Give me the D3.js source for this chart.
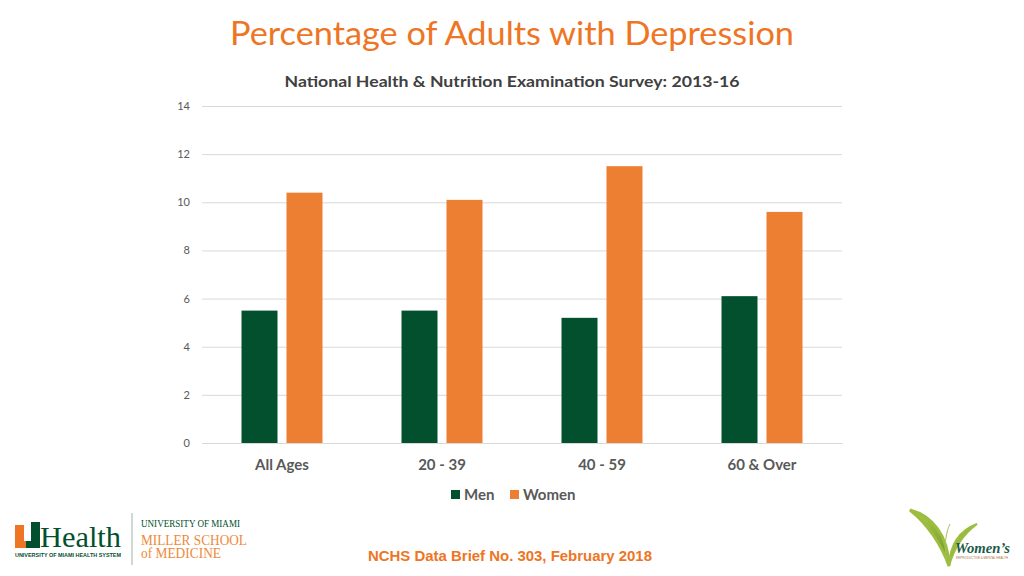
<!DOCTYPE html>
<html>
<head>
<meta charset="utf-8">
<script src="https://cdn.jsdelivr.net/npm/d3@7"></script>
<style>
  html, body { margin: 0; padding: 0; background: #ffffff; }
  svg { display: block; }
</style>
</head>
<body>
<svg id="chart" width="1024" height="576"></svg>
<script>
// ---- data ----
const categories = ["All Ages", "20 - 39", "40 - 59", "60 & Over"];
const seriesNames = ["Men", "Women"];
const menValues = [5.5, 5.5, 5.2, 6.1];
const womenValues = [10.4, 10.1, 11.5, 9.6];
const yTicks = [0, 2, 4, 6, 8, 10, 12, 14];
const titleText = "Percentage of Adults with Depression";
const subtitleText = "National Health & Nutrition Examination Survey: 2013-16";
const footerText = "NCHS Data Brief No. 303, February 2018";

// ---- styles ----
const colors = { Men: "#02502E", Women: "#EC7F31" };
const font = "Lato, 'Open Sans', sans-serif";

const svg = d3.select("#chart");
const margin = { left: 202, right: 842, top: 106, bottom: 443 };

const x0 = d3.scaleBand().domain(categories).range([margin.left, margin.right]).paddingInner(0).paddingOuter(0);
const x1 = d3.scaleBand().domain(seriesNames).range([0, x0.bandwidth()]).paddingInner(0.2).paddingOuter(0.878);
const y = d3.scaleLinear().domain([0, 14]).range([margin.bottom, margin.top]);

const table = categories.map((c, i) => ({ cat: c, Men: menValues[i], Women: womenValues[i] }));

// title
svg.append("text").attr("x", 512).attr("y", 45).attr("text-anchor", "middle")
  .attr("font-family", font).attr("font-size", 32).attr("fill", "#EE7524")
  .attr("textLength", 564).attr("lengthAdjust", "spacingAndGlyphs")
  .text(titleText);
svg.append("text").attr("x", 512).attr("y", 87).attr("text-anchor", "middle")
  .attr("font-family", font).attr("font-size", 16).attr("font-weight", "bold").attr("fill", "#404040")
  .attr("textLength", 455).attr("lengthAdjust", "spacingAndGlyphs")
  .text(subtitleText);

// grid + y axis
const yAxis = d3.axisLeft(y).tickValues(yTicks).tickSize(-(margin.right - margin.left)).tickPadding(12);
const gy = svg.append("g").attr("transform", `translate(${margin.left},0)`).call(yAxis);
gy.select(".domain").remove();
gy.selectAll(".tick line").attr("stroke", "#D9D9D9").attr("stroke-width", 1);
gy.selectAll(".tick text").attr("font-family", font).attr("font-size", 11).attr("fill", "#595959");

// bars
const groups = svg.append("g").selectAll("g").data(table).join("g")
  .attr("transform", d => `translate(${x0(d.cat)},0)`);
groups.selectAll("rect").data(d => seriesNames.map(s => ({ s, v: d[s] }))).join("rect")
  .attr("x", d => x1(d.s)).attr("width", x1.bandwidth())
  .attr("y", d => y(d.v)).attr("height", d => y(0) - y(d.v))
  .attr("fill", d => colors[d.s]);

// x axis
const xAxis = d3.axisBottom(x0).tickSize(0).tickPadding(16);
const gx = svg.append("g").attr("transform", `translate(0,${margin.bottom})`).call(xAxis);
gx.select(".domain").attr("stroke", "#D9D9D9");
gx.selectAll(".tick text").attr("font-family", font).attr("font-size", 15).attr("font-weight", "bold").attr("fill", "#595959");

// legend
const legendX = { Men: 451, Women: 510 };
const lg = svg.append("g").selectAll("g").data(seriesNames).join("g")
  .attr("transform", d => `translate(${legendX[d]},490)`);
lg.append("rect").attr("width", 9).attr("height", 9).attr("fill", d => colors[d]);
lg.append("text").attr("x", 13).attr("y", 10).attr("font-family", font).attr("font-size", 15)
  .attr("font-weight", "bold").attr("fill", "#595959").text(d => d);

// footer
svg.append("text").attr("x", 510).attr("y", 561).attr("text-anchor", "middle")
  .attr("font-family", "'Liberation Sans', Arial, sans-serif").attr("font-size", 14).attr("font-weight", "bold")
  .attr("fill", "#EE7524").attr("textLength", 284).attr("lengthAdjust", "spacingAndGlyphs")
  .text(footerText);

// ---- UHealth logo ----
const logo = svg.append("g");
logo.append("path").attr("d", "M15,525 L24,525 L24,541 L31,541 L31,548 L15,548 Z").attr("fill", "#EE7524");
logo.append("path").attr("d", "M31,522 L40,522 L40,548 L26,548 L26,541 L31,541 Z").attr("fill", "#02502E");
logo.append("text").attr("x", 40).attr("y", 547).attr("font-family", "'Liberation Serif', serif")
  .attr("font-size", 30).attr("fill", "#02502E").attr("textLength", 81).attr("lengthAdjust", "spacingAndGlyphs").text("Health");
logo.append("text").attr("x", 15).attr("y", 557).attr("font-family", "'Liberation Sans', Arial, sans-serif")
  .attr("font-size", 6).attr("font-weight", "bold").attr("fill", "#02502E").attr("textLength", 106).attr("lengthAdjust", "spacingAndGlyphs")
  .text("UNIVERSITY OF MIAMI HEALTH SYSTEM");
logo.append("line").attr("x1", 132).attr("x2", 132).attr("y1", 513).attr("y2", 565).attr("stroke", "#9DB3A6").attr("stroke-width", 1);
logo.append("text").attr("x", 141).attr("y", 527).attr("font-family", "'Liberation Serif', serif")
  .attr("font-size", 10).attr("fill", "#02502E").attr("textLength", 99).attr("lengthAdjust", "spacingAndGlyphs").text("UNIVERSITY OF MIAMI");
logo.append("text").attr("x", 141).attr("y", 545).attr("font-family", "'Liberation Serif', serif")
  .attr("font-size", 14).attr("fill", "#EE8A3A").attr("textLength", 106).attr("lengthAdjust", "spacingAndGlyphs").text("MILLER SCHOOL");
logo.append("text").attr("x", 141).attr("y", 558).attr("font-family", "'Liberation Serif', serif")
  .attr("font-size", 14).attr("fill", "#EE8A3A").attr("textLength", 80).attr("lengthAdjust", "spacingAndGlyphs").text("of MEDICINE");

// ---- Women's logo ----
const defs = svg.append("defs");
const grad = defs.append("linearGradient").attr("id", "leaf").attr("x1", "0").attr("y1", "0").attr("x2", "1").attr("y2", "1");
grad.append("stop").attr("offset", "0%").attr("stop-color", "#B5CC4A");
grad.append("stop").attr("offset", "100%").attr("stop-color", "#6E9A2A");
const wl = svg.append("g");
wl.append("path").attr("d", "M910,510 C932,516 948,535 949,566 C942,546 928,524 910,510 Z").attr("fill", "url(#leaf)").attr("stroke", "#9BBE40").attr("stroke-width", 3);
wl.append("path").attr("d", "M949,566 C950,545 958,531 977,524 C962,535 954,548 949,566 Z").attr("fill", "url(#leaf)").attr("stroke", "#9BBE40").attr("stroke-width", 2);
wl.append("path").attr("d", "M946,560 C944,545 946,532 950,524").attr("fill", "none").attr("stroke", "#A8C255").attr("stroke-width", 1);
wl.append("text").attr("x", 955).attr("y", 553).attr("font-family", "'Liberation Serif', serif")
  .attr("font-size", 15).attr("font-style", "italic").attr("font-weight", "bold").attr("fill", "#1E5A46")
  .attr("textLength", 55).attr("lengthAdjust", "spacingAndGlyphs").text("Women’s");
wl.append("text").attr("x", 956).attr("y", 559).attr("font-family", "'Liberation Sans', sans-serif")
  .attr("font-size", 3.5).attr("fill", "#B07040").attr("textLength", 52).attr("lengthAdjust", "spacingAndGlyphs").text("REPRODUCTIVE & MENTAL HEALTH");
</script>
</body>
</html>
